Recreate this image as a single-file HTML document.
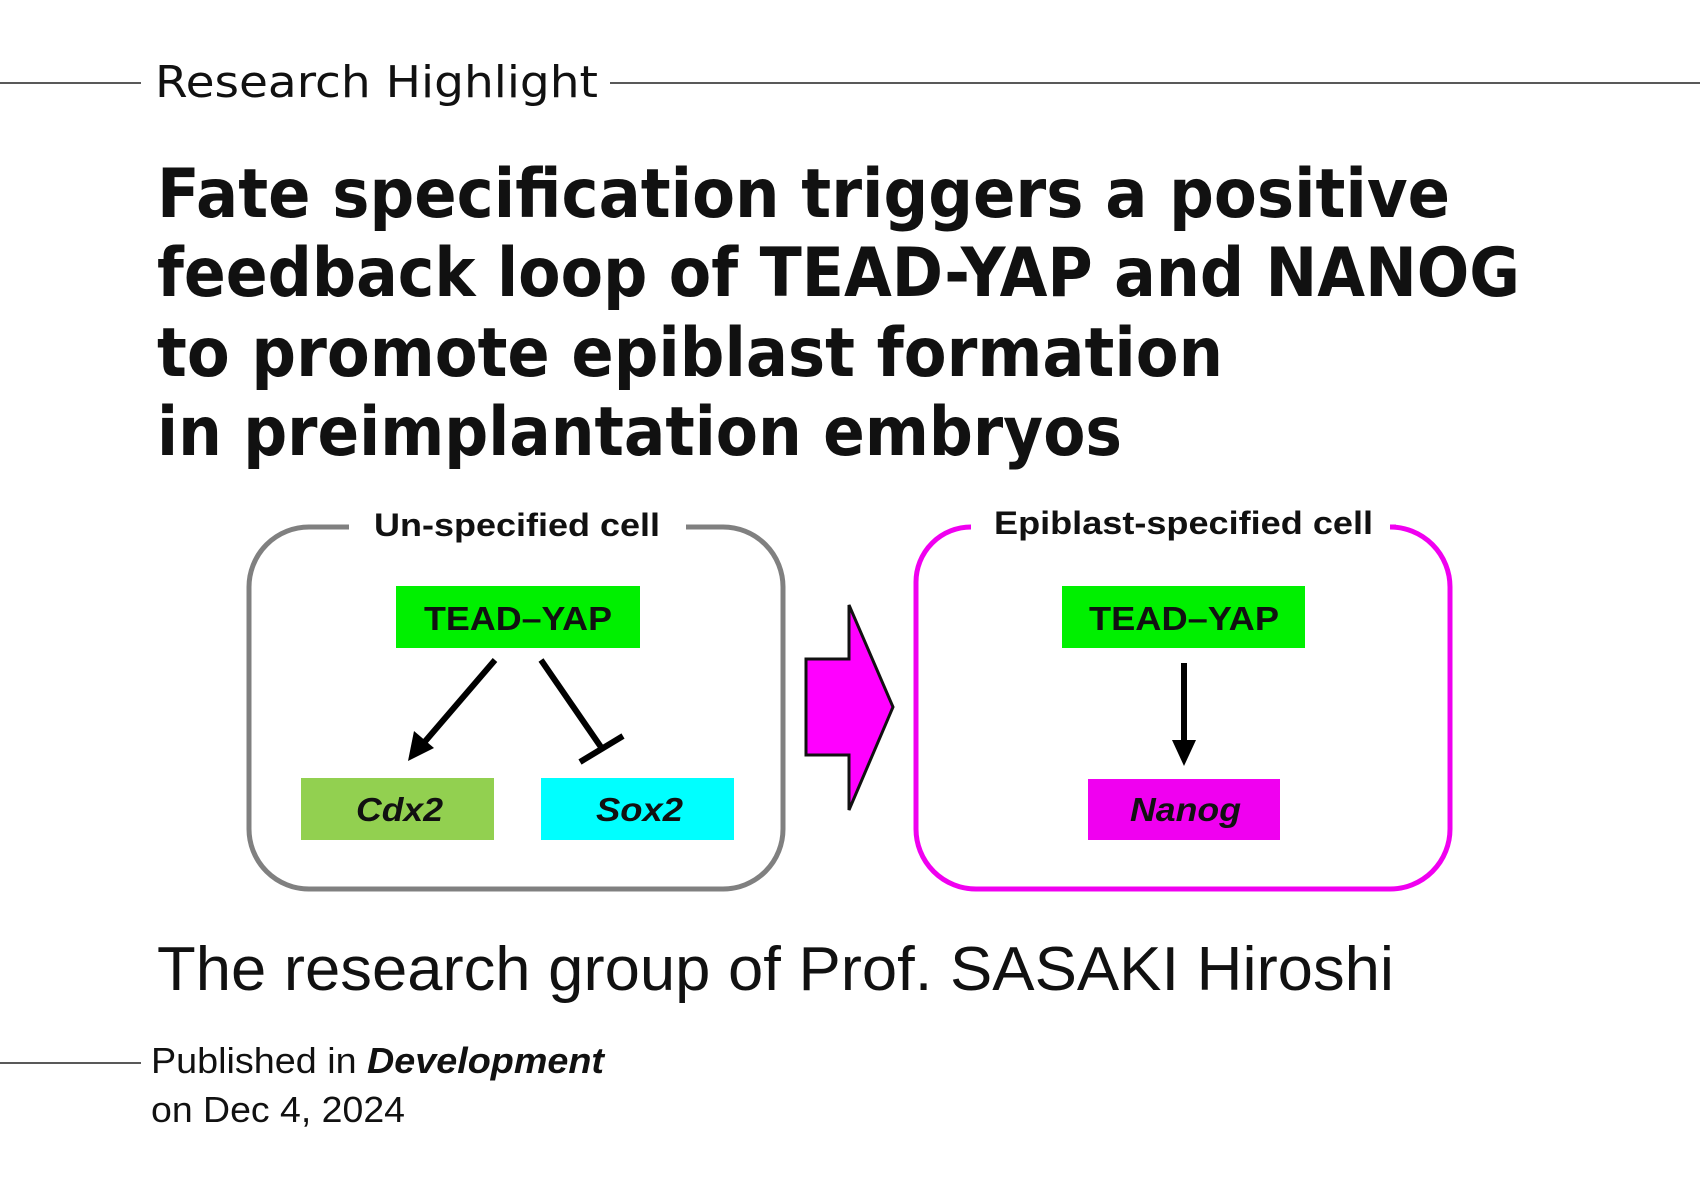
<!DOCTYPE html>
<html><head><meta charset="utf-8"><style>
html,body{margin:0;padding:0;background:#fff;width:1700px;height:1202px;overflow:hidden}
svg{display:block}
</style></head><body>
<svg width="1700" height="1202" viewBox="0 0 1700 1202" xmlns="http://www.w3.org/2000/svg">
<g stroke="#222" stroke-width="1.5">
<line x1="0" y1="83" x2="141" y2="83"/>
<line x1="610" y1="83" x2="1700" y2="83"/>
<line x1="0" y1="1063" x2="141" y2="1063"/>
</g>
<g font-family="Liberation Sans, DejaVu Sans, sans-serif" fill="#111">
<text x="155" y="97" font-size="44" font-family="DejaVu Sans, sans-serif" textLength="443" lengthAdjust="spacingAndGlyphs">Research Highlight</text>
<g font-weight="bold" font-size="68" font-family="DejaVu Sans, sans-serif">
<text x="157" y="217" textLength="1293" lengthAdjust="spacingAndGlyphs">Fate specification triggers a positive</text>
<text x="157" y="296" textLength="1363" lengthAdjust="spacingAndGlyphs">feedback loop of TEAD-YAP and NANOG</text>
<text x="157" y="376" textLength="1066" lengthAdjust="spacingAndGlyphs">to promote epiblast formation</text>
<text x="157" y="455" textLength="965" lengthAdjust="spacingAndGlyphs">in preimplantation embryos</text>
</g>
<text x="157" y="990" font-size="62" textLength="1237" lengthAdjust="spacingAndGlyphs">The research group of Prof. SASAKI Hiroshi</text>
<text x="151" y="1073" font-size="36" textLength="453" lengthAdjust="spacingAndGlyphs">Published in <tspan font-weight="bold" font-style="italic">Development</tspan></text>
<text x="151" y="1122" font-size="36" textLength="254" lengthAdjust="spacingAndGlyphs">on Dec 4, 2024</text>
</g>
<path d="M349 527 H309 A60 60 0 0 0 249 587 V829 A60 60 0 0 0 309 889 H723 A60 60 0 0 0 783 829 V587 A60 60 0 0 0 723 527 H686" fill="none" stroke="#808080" stroke-width="5"/>
<path d="M971 527 A55 55 0 0 0 916 582 V829 A60 60 0 0 0 976 889 H1390 A60 60 0 0 0 1450 829 V587 A60 60 0 0 0 1390 527 H1396" fill="none" stroke="#f000f0" stroke-width="5"/>
<g font-family="Liberation Sans, sans-serif" font-weight="bold" fill="#111">
<text x="374" y="536" font-size="32" textLength="286" lengthAdjust="spacingAndGlyphs">Un-specified cell</text>
<text x="994" y="534" font-size="32" textLength="379" lengthAdjust="spacingAndGlyphs">Epiblast-specified cell</text>
</g>
<rect x="396" y="586" width="244" height="62" fill="#00f000"/>
<rect x="301" y="778" width="193" height="62" fill="#92d050"/>
<rect x="541" y="778" width="193" height="62" fill="#00ffff"/>
<rect x="1062" y="586" width="243" height="62" fill="#00f000"/>
<rect x="1088" y="779" width="192" height="61" fill="#f000f0"/>
<g font-family="Liberation Sans, sans-serif" font-weight="bold" fill="#111" font-size="33">
<text x="424" y="630" textLength="188" lengthAdjust="spacingAndGlyphs">TEAD–YAP</text>
<text x="1089" y="630" textLength="190" lengthAdjust="spacingAndGlyphs">TEAD–YAP</text>
<g font-style="italic">
<text x="356" y="821" textLength="87" lengthAdjust="spacingAndGlyphs">Cdx2</text>
<text x="596" y="821" textLength="87" lengthAdjust="spacingAndGlyphs">Sox2</text>
<text x="1130" y="821" textLength="111" lengthAdjust="spacingAndGlyphs">Nanog</text>
</g>
</g>
<g stroke="#000" stroke-width="6" fill="#000">
<line x1="495" y1="660" x2="422" y2="745"/>
<line x1="541" y1="660" x2="603" y2="750"/>
<line x1="580" y1="762" x2="623" y2="736"/>
<line x1="1184" y1="663" x2="1184" y2="745"/>
</g>
<polygon points="408,761 414,731 434,748" fill="#000"/>
<polygon points="1184,766 1172,740 1196,740" fill="#000"/>
<polygon points="806,659 849,659 849,605 893,707 849,810 849,755 806,755" fill="#ff00ff" stroke="#111" stroke-width="3"/>
</svg>
</body></html>
